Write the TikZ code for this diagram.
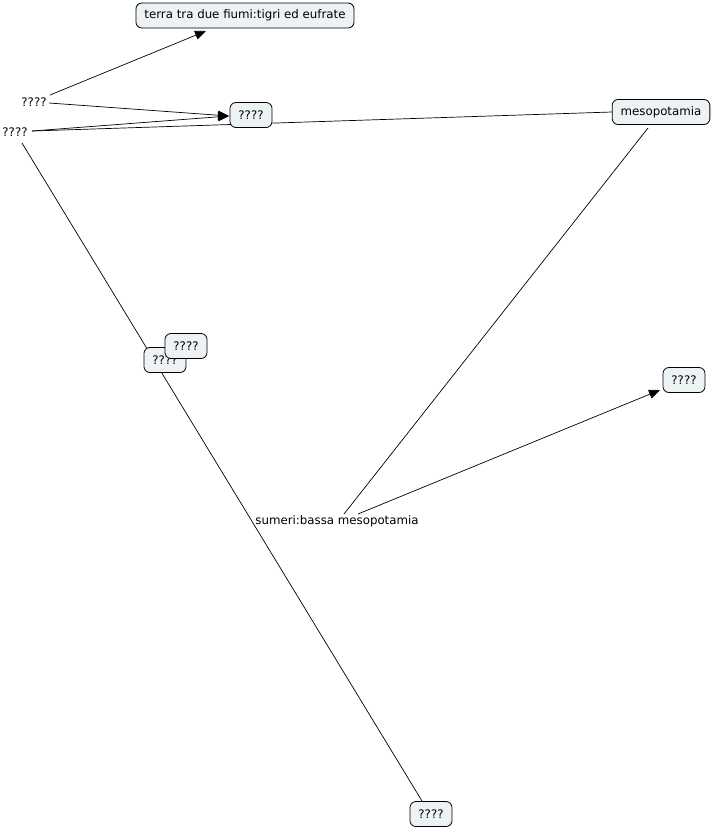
\documentclass[tikz,border=0pt]{standalone}
\usepackage{fontspec}
\setmainfont{DejaVu Sans}
\usetikzlibrary{arrows.meta,backgrounds}
\definecolor{boxfill}{HTML}{EDF3F5}
\tikzset{
  concept/.style={draw=black, fill=boxfill, rounded corners=6pt, line width=0.8pt, inner xsep=8.5pt, minimum height=25pt, font=\fontsize{11.8}{14}\selectfont},
  plain/.style={inner sep=1pt, font=\fontsize{11.8}{14}\selectfont},
  link/.style={line width=0.7pt},
  arr/.style={link, -{Triangle[length=11pt,width=9pt]}}
}
\begin{document}
\begin{tikzpicture}[x=1pt,y=-1pt]
\useasboundingbox (0,0) rectangle (712,828);
\node[concept] (T1) at (245,15.5) {terra tra due fiumi:tigri ed eufrate};
\node[plain] (L1) at (34,102) {????};
\node[plain] (L2) at (15,132) {????};
\node[concept] (Q1) at (251,115) {????};
\node[concept] (M) at (661,112) {mesopotamia};
\node[concept] (Q3) at (165,360) {????};
\node[concept] (Q2) at (186,346) {????};
\node[plain] (S) at (337,521) {sumeri:bassa mesopotamia};
\node[concept] (Q4) at (684,380) {????};
\node[concept] (Q5) at (431,814) {????};
\coordinate (T1a) at (206,31);
\coordinate (Q1a) at (229,116);
\coordinate (L1a) at (50,95);
\coordinate (L1b) at (49,103);
\coordinate (L2a) at (32,131);
\coordinate (L2b) at (22,143);
\coordinate (Ma) at (648,128);
\coordinate (Sa) at (344,514);
\coordinate (Sb) at (358,514);
\coordinate (Q4a) at (660,390);
\coordinate (Q5a) at (422,801);
\begin{scope}[on background layer]
\draw[arr] (L1a) -- (T1a);
\draw[arr] (L1b) -- (Q1a);
\draw[arr] (L2a) -- (Q1a);
\draw[link] (L2a) -- (M.west);
\draw[link] (L2b) -- (Q5a);
\draw[link] (Ma) -- (Sa);
\draw[arr] (Sb) -- (Q4a);
\end{scope}
\end{tikzpicture}
\end{document}
